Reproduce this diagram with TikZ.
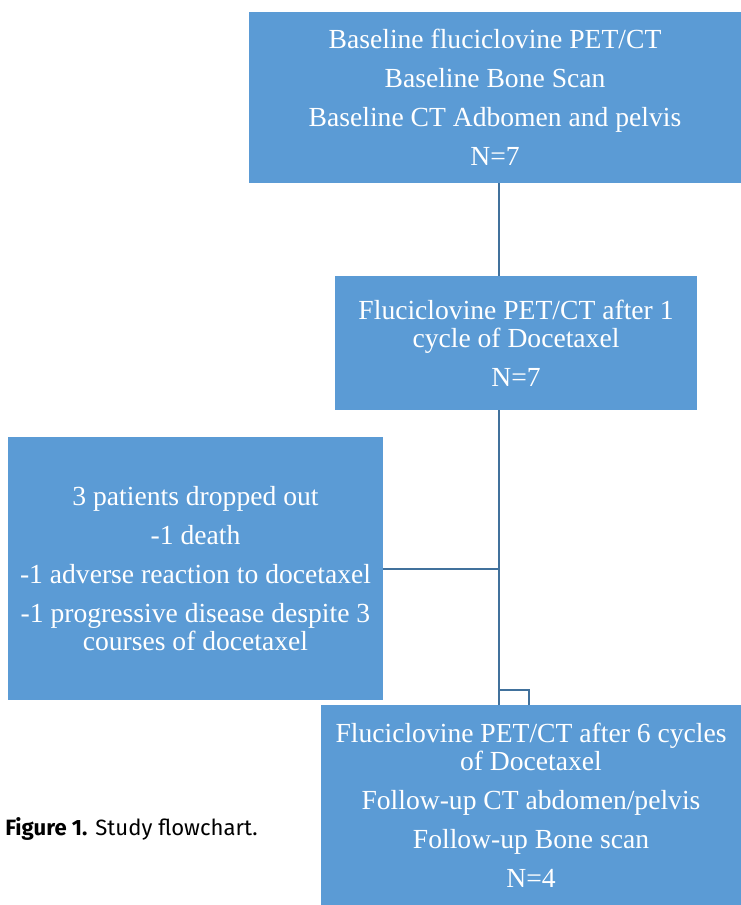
\documentclass[tikz,border=0pt]{standalone}
\usepackage{fontspec}
\setmainfont{Liberation Serif}
\newfontfamily\capfont{Fira Sans}
\usetikzlibrary{positioning,calc}
\definecolor{stage}{HTML}{5B9BD5}
\definecolor{wire}{HTML}{41719C}

\begin{document}
\begin{tikzpicture}[
      x=0.75pt, y=-0.75pt,
      box/.style={fill=stage, draw=none, text=white, align=center,
                  inner sep=0pt, font=\fontsize{20.7}{21}\selectfont},
      link/.style={draw=wire, line width=1.5pt},
      caption/.style={anchor=base west, inner sep=0pt,
                      font=\capfont\fontsize{16.6}{19}\selectfont}
    ]
    \useasboundingbox (0,0) rectangle (741,905);

    \node[box, minimum width=369pt, minimum height=128.25pt] (base) at (495,97.5)
      {Baseline fluciclovine PET/CT\\[8.25pt]
       Baseline Bone Scan\\[8.25pt]
       Baseline CT Adbomen and pelvis\\[8.25pt]
       N=7};
    \node[box, minimum width=271.5pt, minimum height=100.5pt] (cycle) at (516,343)
      {Fluciclovine PET/CT after 1\\
       cycle of Docetaxel\\[8.25pt]
       N=7};
    \node[box, minimum width=281.25pt, minimum height=197.25pt] (drop) at (195.5,568.5)
      {3 patients dropped out\\[8.25pt]
       -1 death\\[8.25pt]
       -1 adverse reaction to docetaxel\\[8.25pt]
       -1 progressive disease despite 3\\
       courses of docetaxel};
    \node[box, minimum width=315pt, minimum height=150pt] (final) at (531,805)
      {Fluciclovine PET/CT after 6 cycles\\
       of Docetaxel\\[8.25pt]
       Follow-up CT abdomen/pelvis\\[8.25pt]
       Follow-up Bone scan\\[8.25pt]
       N=4};

    \node[caption] (fig) at (5,835) {\textbf{Figure 1.} Study flowchart.};

    % trunk and the little hook above the last box
    \coordinate (split) at (498.5,690);
    \coordinate (hook)  at (528.5,690);

    \draw[link] (base.south -| split) -- (cycle.north -| split);
    \draw[link] (cycle.south -| split) -- (final.north -| split);
    \draw[link] (drop.east) -- (drop.east -| split);
    \draw[link] (split) -| (final.north -| hook);

  \end{tikzpicture}
\end{document}
